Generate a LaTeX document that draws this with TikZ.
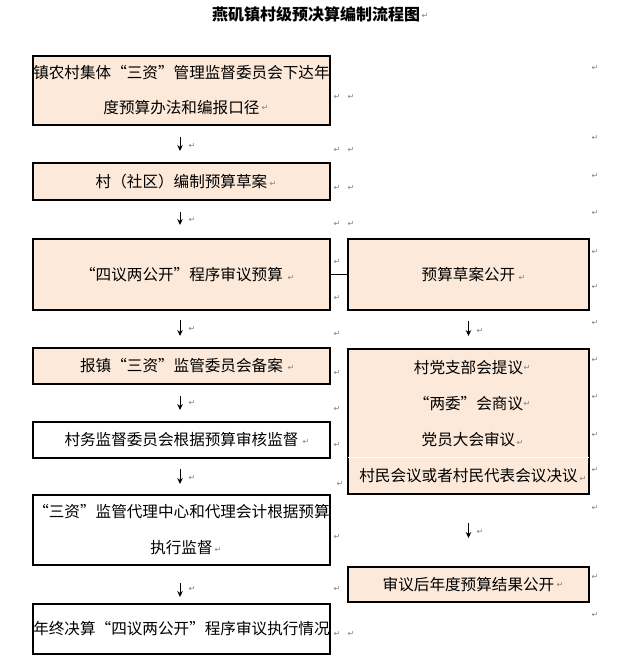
\documentclass[tikz,border=0pt]{standalone}
\usepackage{fontspec}
\setmainfont{Noto Sans CJK SC}
\newfontfamily\symfont{DejaVu Sans}
\usetikzlibrary{arrows.meta}
\definecolor{peach}{RGB}{252,233,217}
\definecolor{markgray}{RGB}{128,128,128}
\begin{document}
\begin{tikzpicture}[x=1pt,y=-1pt,
  box/.style={draw=black, line width=2pt, fill=peach, inner sep=0pt,
    minimum width=297pt, align=center,
    font=\fontsize{15.6}{35}\selectfont},
  wbox/.style={box, fill=white},
  rbox/.style={box, minimum width=241pt, font=\fontsize{15.6}{36}\selectfont},
  flow/.style={-{Stealth[length=6pt,width=5.5pt]}, line width=1pt},
  link/.style={line width=1pt},
  pmark/.style={text=markgray, font=\symfont\fontsize{8}{8}\selectfont, inner sep=0pt}
]
\useasboundingbox (0,0) rectangle (624,665);

% title
\node[font=\fontsize{16}{16}\selectfont\bfseries] (title) at (316,14) {燕矶镇村级预决算编制流程图};

% left column
\node[box, minimum height=69pt] (b1) at (181.5,90.5)
  {镇农村集体“三资”管理监督委员会下达年\\度预算办法和编报口径};
\node[box, minimum height=37pt] (b2) at (181.5,181.5) {村（社区）编制预算草案};
\node[box, minimum height=71pt] (b3) at (181.5,274.5) {“四议两公开”程序审议预算};
\node[box, minimum height=36pt] (b4) at (181.5,366) {报镇“三资”监管委员会备案};
\node[wbox, minimum height=36pt] (b5) at (181.5,440) {村务监督委员会根据预算审核监督};
\node[wbox, minimum height=70pt, font=\fontsize{15.6}{36}\selectfont] (b6) at (181.5,530)
  {“三资”监管代理中心和代理会计根据预算\\执行监督};
\node[wbox, minimum height=50pt] (b7) at (181.5,629) {年终决算“四议两公开”程序审议执行情况};

% right column
\node[rbox, minimum height=71pt] (r1) at (468.5,274.5) {预算草案公开};
\node[rbox, minimum height=145pt] (r2) at (468.5,421.5)
  {村党支部会提议\\“两委”会商议\\党员大会审议\\村民会议或者村民代表会议决议};
\node[rbox, minimum height=35pt] (r3) at (468.5,584.5) {审议后年度预算结果公开};
\coordinate (sep) at (0,457);
\draw[white, line width=1pt] ([xshift=1pt]r2.west |- sep) -- ([xshift=-1pt]r2.east |- sep);

% connectors
\draw[flow, shorten <=11pt, shorten >=11pt] ([xshift=-1.5pt]b1.south) -- ([xshift=-1.5pt]b2.north);
\draw[flow, shorten <=11pt, shorten >=13pt] ([xshift=-1.5pt]b2.south) -- ([xshift=-1.5pt]b3.north);
\draw[flow, shorten <=9pt, shorten >=11pt] ([xshift=-1.5pt]b3.south) -- ([xshift=-1.5pt]b4.north);
\draw[flow, shorten <=11pt, shorten >=11pt] ([xshift=-1.5pt]b4.south) -- ([xshift=-1.5pt]b5.north);
\draw[flow, shorten <=10pt, shorten >=10pt] ([xshift=-1.5pt]b5.south) -- ([xshift=-1.5pt]b6.north);
\draw[flow, shorten <=17pt, shorten >=6pt] ([xshift=-1.5pt]b6.south) -- ([xshift=-1.5pt]b7.north);
\draw[flow, shorten <=10pt, shorten >=12pt] (r1.south) -- (r2.north);
\draw[flow, shorten <=28pt, shorten >=28pt] (r2.south) -- (r3.north);
\draw[link] (b3.east) -- (r1.west);

% paragraph marks
\foreach \mx/\my [count=\i] in {
  425/16, 595/68, 265/108, 337/97, 351/97, 192/146, 595/138, 337/150, 351/150,
  273/184, 595/176, 337/188, 351/188, 192/220, 595/213, 337/224, 351/224,
  337/262, 337/298, 291/278, 522/278, 595/252, 595/287,
  192/329, 337/334, 480/331, 595/323,
  291/368, 337/373, 527/368, 595/360,
  192/403, 337/409, 527/404, 595/397,
  306/442, 337/445, 520/443, 595/435,
  192/478, 340/484, 583/479, 595/470,
  595/508, 218/550, 337/537, 480/532,
  192/589, 337/589, 560/585, 595/577, 595/615,
  337/634, 351/634}
  \node[pmark] (m\i) at (\mx,\my) {↵};
\end{tikzpicture}
\end{document}
